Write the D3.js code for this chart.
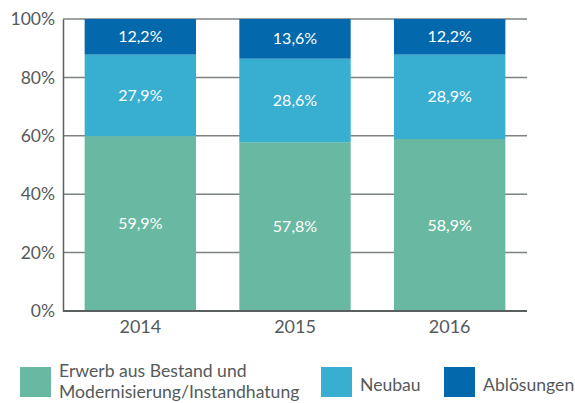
<!DOCTYPE html>
<html>
<head>
<meta charset="utf-8">
<script src="https://cdn.jsdelivr.net/npm/d3@7"></script>
<style>
  html, body { margin: 0; padding: 0; background: #fff; }
  svg { display: block; font-family: "Lato", "Open Sans", sans-serif; }
</style>
</head>
<body>
<svg id="chart" width="575" height="403"></svg>
<script>
// Finanzierungszwecke, Anteile in Prozent
const years = ["2014", "2015", "2016"];
const erwerb = [59.9, 57.8, 58.9];
const neubau = [27.9, 28.6, 28.9];
const abloesungen = [12.2, 13.6, 12.2];
const yTicks = [0, 20, 40, 60, 80, 100];
const seriesNames = ["Erwerb aus Bestand und Modernisierung/Instandhatung", "Neubau", "Ablösungen"];
const colors = ["#69b9a2", "#38aed1", "#0369ac"];

const svg = d3.select("#chart");
const plotLeft = 63, plotRight = 527, plotTop = 19, plotBottom = 311;
const textColor = "#555a5a";

const x = d3.scaleBand().domain(years).range([plotLeft, plotRight]).paddingInner(0.28).paddingOuter(0.14);
const y = d3.scaleLinear().domain([0, 100]).range([plotBottom, plotTop]);

// horizontal gridlines
svg.append("g").selectAll("line").data(yTicks.slice(1)).join("line")
  .attr("x1", plotLeft).attr("x2", plotRight)
  .attr("y1", d => y(d)).attr("y2", d => y(d))
  .attr("stroke", "#7d8282").attr("stroke-width", 1.5);

// stacked data
const rows = years.map((yr, i) => ({ year: yr, erwerb: erwerb[i], neubau: neubau[i], abloesungen: abloesungen[i] }));
const keys = ["erwerb", "neubau", "abloesungen"];
const stacked = d3.stack().keys(keys)(rows);

const fmt = v => d3.format(".1f")(v).replace(".", ",") + "%";

const layers = svg.append("g").selectAll("g").data(stacked).join("g")
  .attr("fill", (d, i) => colors[i]);

layers.selectAll("rect").data(d => d).join("rect")
  .attr("x", d => x(d.data.year))
  .attr("width", x.bandwidth())
  .attr("y", d => y(d[1]))
  .attr("height", d => y(d[0]) - y(d[1]));

layers.each(function(layer) {
  d3.select(this).selectAll("text").data(layer).join("text")
    .attr("x", d => x(d.data.year) + x.bandwidth() / 2)
    .attr("y", d => (y(d[0]) + y(d[1])) / 2)
    .attr("dy", "0.35em")
    .attr("text-anchor", "middle")
    .attr("fill", "#fff")
    .attr("font-size", 16)
    .text(d => fmt(d.data[layer.key]));
});

// axes
const yAxis = d3.axisLeft(y).tickValues(yTicks).tickSize(0).tickPadding(8).tickFormat(d => d + "%");
const gy = svg.append("g").attr("transform", `translate(${plotLeft},0)`).call(yAxis);
gy.select(".domain").attr("stroke", "#5a5f5f").attr("stroke-width", 1.5);
gy.selectAll("text").attr("font-size", 17.5).attr("fill", textColor).attr("font-family", "Lato, sans-serif");

const xAxis = d3.axisBottom(x).tickSize(0).tickPadding(9);
const gx = svg.append("g").attr("transform", `translate(0,${plotBottom})`).call(xAxis);
gx.select(".domain").attr("d", `M${plotLeft},0H${plotRight}`).attr("stroke", "#5a5f5f").attr("stroke-width", 2);
gx.selectAll("text").attr("font-size", 18).attr("fill", textColor).attr("font-family", "Lato, sans-serif");

// legend
const legend = svg.append("g").attr("font-size", 17.6).attr("fill", textColor);
const sw = [20, 321, 444];
const lines = [["Erwerb aus Bestand und", "Modernisierung/Instandhatung"], ["Neubau"], ["Ablösungen"]];
seriesNames.forEach((name, i) => {
  legend.append("rect").attr("x", sw[i]).attr("y", 367).attr("width", 31).attr("height", 30).attr("fill", colors[i]);
  const t = legend.append("text").attr("x", sw[i] + 39);
  if (lines[i].length === 2) {
    t.append("tspan").attr("x", sw[i] + 39).attr("y", 377).text(lines[i][0]);
    t.append("tspan").attr("x", sw[i] + 39).attr("y", 398).text(lines[i][1]);
  } else {
    t.attr("y", 391).text(lines[i][0]);
  }
});
</script>
</body>
</html>
